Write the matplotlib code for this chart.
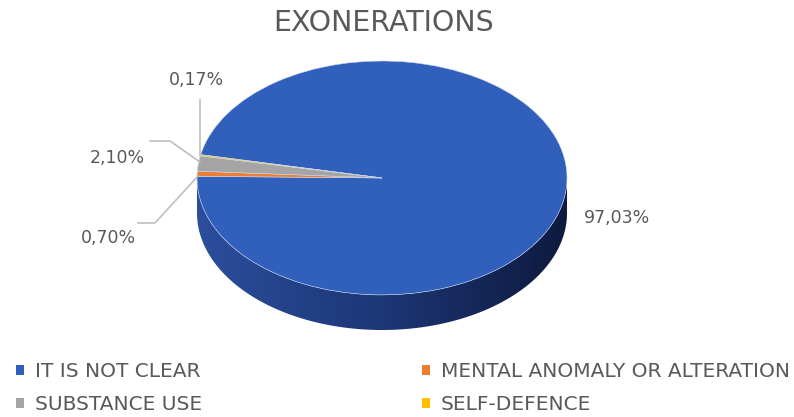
import numpy as np
import matplotlib.pyplot as plt
from matplotlib.colors import LinearSegmentedColormap
from matplotlib.patches import Polygon

plt.rcParams['font.family'] = ['DejaVu Sans']

# data
categories = ['IT IS NOT CLEAR', 'MENTAL ANOMALY OR ALTERATION', 'SUBSTANCE USE', 'SELF-DEFENCE']
shares = [97.03, 0.70, 2.10, 0.17]
colors = ['#3060BC', '#ED7D31', '#A5A5A5', '#FFC000']

W, H = 794, 417
fig = plt.figure(figsize=(W / 100, H / 100), dpi=100)


def fx(px):
    return px / W


def fy(py):
    return 1 - py / H


# pie axes: x from -1..1, y scaled so the top face is an ellipse
depth = 0.30
ax = fig.add_axes([fx(197), fy(330), 370 / W, 269 / H])

# side of the cylinder (front half), shaded with a gradient
t = np.linspace(np.pi, 2 * np.pi, 200)
side = np.concatenate([np.c_[np.cos(t), np.sin(t)], np.c_[np.cos(t[::-1]), np.sin(t[::-1]) - depth]])
poly = Polygon(side, closed=True, facecolor='none', edgecolor='none')
ax.add_patch(poly)
side_cmap = LinearSegmentedColormap.from_list('side', ['#2B4E9E', '#1D3675', '#0E1A3E'])
grad = ax.imshow(np.linspace(0, 1, 256)[None, :], cmap=side_cmap, aspect='auto',
                 extent=[-1, 1, -1 - depth, 0], zorder=1)
grad.set_clip_path(poly)

wedges, _ = ax.pie(shares, colors=colors, startangle=168.5, counterclock=False, radius=1,
                   wedgeprops=dict(edgecolor='#C9D6EE', linewidth=0.4))
for w in wedges:
    w.set_zorder(2)
ax.set_aspect('auto')
ax.set_xlim(-1, 1)
ax.set_ylim(-1 - depth, 1)
ax.axis('off')

# title
fig.text(fx(384), fy(31), 'EXONERATIONS', ha='center', va='baseline', fontsize=20.5, color='#595959')

# data labels
lab_col = '#595959'
lbl = [f'{v:.2f}%'.replace('.', ',') for v in shares]
fig.text(fx(617), fy(218), lbl[0], ha='center', va='center', fontsize=12.5, color=lab_col)
fig.text(fx(108), fy(238), lbl[1], ha='center', va='center', fontsize=12.5, color=lab_col)
fig.text(fx(117), fy(158), lbl[2], ha='center', va='center', fontsize=12.5, color=lab_col)
fig.text(fx(196), fy(80), lbl[3], ha='center', va='center', fontsize=12.5, color=lab_col)

# leader lines
line_col = '#BFBFBF'
leaders = [
    ([138, 155, 198], [223, 223, 176]),
    ([150, 170, 200], [141, 141, 162]),
    ([200, 200], [100, 156]),
]
for xs, ys in leaders:
    fig.add_artist(plt.Line2D([fx(v) for v in xs], [fy(v) for v in ys], color=line_col, lw=1.2))

# legend
order = [0, 2, 1, 3]
leg = fig.legend([wedges[i] for i in order], [categories[i] for i in order],
                 ncol=2, loc='upper left', bbox_to_anchor=(fx(16), fy(362)), frameon=False,
                 borderpad=0, borderaxespad=0,
                 fontsize=14.5, handlelength=0.4, handleheight=0.4, handletextpad=0.55,
                 columnspacing=10.9, labelspacing=0.7, labelcolor='#595959')
for h in leg.legend_handles:
    h.set_edgecolor('none')

fig.savefig('out.png', dpi=100)
